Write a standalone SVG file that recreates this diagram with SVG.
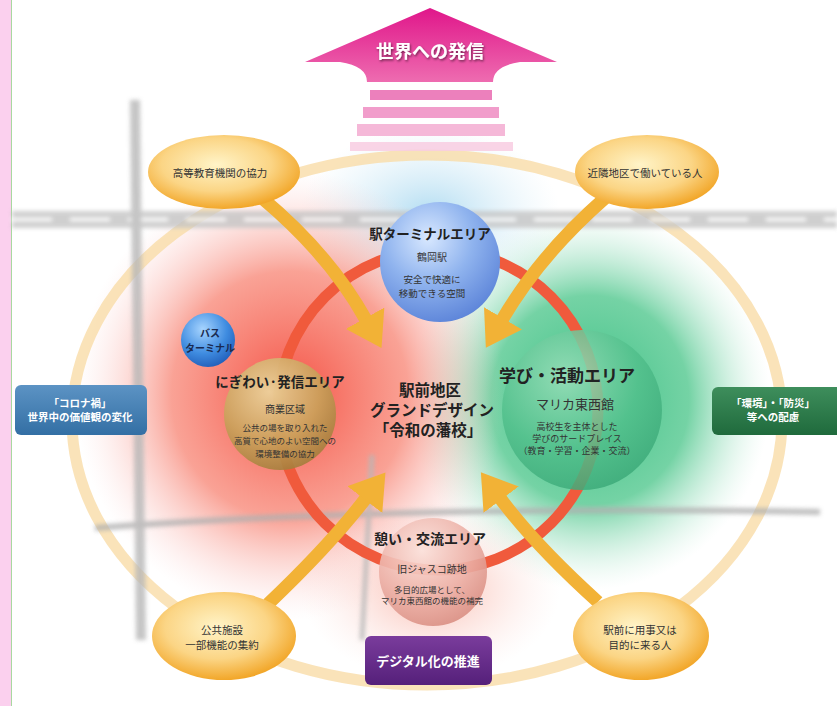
<svg xmlns="http://www.w3.org/2000/svg" width="837" height="706" viewBox="0 0 837 706">
<defs>
<style>
.t{font-family:"Noto Sans CJK JP","Noto Sans",sans-serif;text-anchor:middle}
.b{font-weight:700}
.dk{fill:#222}
.md{fill:#333}
.wh{fill:#fff;font-weight:700}
.arw{fill:none;stroke:#f2b236;stroke-width:13}
</style>
<radialGradient id="gRed" cx="0.5" cy="0.5" r="0.5">
<stop offset="0" stop-color="#f44a3c" stop-opacity="0.95"/>
<stop offset="0.55" stop-color="#f77a68" stop-opacity="0.7"/>
<stop offset="1" stop-color="#fbd0d0" stop-opacity="0"/>
</radialGradient>
<radialGradient id="gGreen" cx="0.5" cy="0.5" r="0.5">
<stop offset="0" stop-color="#3cc085" stop-opacity="1"/>
<stop offset="0.55" stop-color="#5ccb95" stop-opacity="0.85"/>
<stop offset="1" stop-color="#c8eedd" stop-opacity="0"/>
</radialGradient>
<radialGradient id="gBlueHaze" cx="0.5" cy="0.5" r="0.5">
<stop offset="0" stop-color="#a8d8f0" stop-opacity="0.9"/>
<stop offset="1" stop-color="#d8eef8" stop-opacity="0"/>
</radialGradient>
<radialGradient id="gPinkHaze" cx="0.5" cy="0.5" r="0.5">
<stop offset="0" stop-color="#f8a898" stop-opacity="0.8"/>
<stop offset="1" stop-color="#fce0dc" stop-opacity="0"/>
</radialGradient>
<radialGradient id="gEll" cx="0.45" cy="0.4" r="0.6">
<stop offset="0" stop-color="#fff4c8"/>
<stop offset="0.6" stop-color="#fbd585"/>
<stop offset="1" stop-color="#f2a72a"/>
</radialGradient>
<radialGradient id="sBlue" cx="0.4" cy="0.3" r="0.75">
<stop offset="0" stop-color="#d8e8ff"/>
<stop offset="0.5" stop-color="#8fb3ee"/>
<stop offset="1" stop-color="#5a82d8"/>
</radialGradient>
<radialGradient id="sBus" cx="0.4" cy="0.3" r="0.75">
<stop offset="0" stop-color="#a6d4ff"/>
<stop offset="0.6" stop-color="#3f8ce0"/>
<stop offset="1" stop-color="#1f5cb8"/>
</radialGradient>
<radialGradient id="sGold" cx="0.4" cy="0.3" r="0.75">
<stop offset="0" stop-color="#ecd8a0"/>
<stop offset="0.6" stop-color="#c9a25a"/>
<stop offset="1" stop-color="#a07a38"/>
</radialGradient>
<radialGradient id="sGreen" cx="0.4" cy="0.3" r="0.75">
<stop offset="0" stop-color="#9ee0bc"/>
<stop offset="0.6" stop-color="#52c08c"/>
<stop offset="1" stop-color="#3aa877"/>
</radialGradient>
<radialGradient id="sPink" cx="0.4" cy="0.3" r="0.75">
<stop offset="0" stop-color="#fbe2dc"/>
<stop offset="0.6" stop-color="#ecb0a6"/>
<stop offset="1" stop-color="#d88c80"/>
</radialGradient>
<linearGradient id="gArrow" x1="0" y1="0" x2="0" y2="1">
<stop offset="0" stop-color="#e0168a"/>
<stop offset="1" stop-color="#ee6cb0"/>
</linearGradient>
<linearGradient id="bBlue" x1="0" y1="0" x2="0" y2="1">
<stop offset="0" stop-color="#5c93c4"/>
<stop offset="1" stop-color="#336fa4"/>
</linearGradient>
<linearGradient id="bGreen" x1="0" y1="0" x2="0" y2="1">
<stop offset="0" stop-color="#3e8e5c"/>
<stop offset="1" stop-color="#1f6a3c"/>
</linearGradient>
<linearGradient id="bPurple" x1="0" y1="0" x2="0" y2="1">
<stop offset="0" stop-color="#7a3c9c"/>
<stop offset="1" stop-color="#55207a"/>
</linearGradient>
<filter id="sh" x="-20%" y="-20%" width="140%" height="140%">
<feDropShadow dx="1" dy="1.5" stdDeviation="1" flood-color="#000" flood-opacity="0.5"/>
</filter>
<filter id="blur8"><feGaussianBlur stdDeviation="2"/></filter>
<marker id="head" markerUnits="userSpaceOnUse" markerWidth="36" markerHeight="44" refX="2" refY="22" orient="auto">
<path d="M0,0 L34,22 L0,44 z" fill="#f2b236"/>
</marker>
</defs>

<!-- background -->
<rect width="837" height="706" fill="#fff"/>
<rect x="0" y="0" width="11" height="706" fill="#fbd0ee"/>
<line x1="11.5" y1="0" x2="11.5" y2="706" stroke="#a8d8a0" stroke-width="1"/>

<!-- color clouds -->
<ellipse cx="430" cy="215" rx="130" ry="90" fill="url(#gBlueHaze)"/>
<ellipse cx="590" cy="400" rx="180" ry="190" fill="url(#gGreen)"/>
<ellipse cx="290" cy="395" rx="215" ry="225" fill="url(#gRed)"/>
<ellipse cx="430" cy="590" rx="130" ry="90" fill="url(#gPinkHaze)"/>

<!-- big outer ring -->
<ellipse cx="427" cy="420" rx="355" ry="265" fill="none" stroke="#f9dca8" stroke-width="11" opacity="0.8"/>

<!-- roads -->
<g id="roads" filter="url(#blur8)" opacity="0.8">
<rect x="12" y="211" width="825" height="17" fill="#c4c4c4"/>
<line x1="12" y1="219.5" x2="837" y2="219.5" stroke="#fff" stroke-width="3" stroke-dasharray="40 18"/>
<path d="M130,100 L136,640 L146,640 L140,100 z" fill="#b8b8b8"/>
<path d="M95,528 Q 400,505 820,512" fill="none" stroke="#b0b0b0" stroke-width="6"/>
<path d="M372,455 L362,640" fill="none" stroke="#b8b8b8" stroke-width="5"/>
</g>

<!-- red ring -->
<circle cx="438" cy="410" r="160" fill="none" stroke="#f05a3c" stroke-width="11"/>

<!-- top arrow -->
<g id="world">
<path d="M430,8 L557,62 L520,62 Q493,66 493,82 L367,82 Q367,66 340,62 L305,62 z" fill="url(#gArrow)"/>
<rect x="370" y="90" width="122" height="10" fill="#ec80bc"/>
<rect x="363" y="107" width="136" height="11" fill="#f098c8" opacity="0.95"/>
<rect x="357" y="124" width="148" height="12" fill="#f4b0d4" opacity="0.9"/>
<rect x="350" y="142" width="163" height="9" fill="#f8cce2" opacity="0.85"/>
<text class="t wh" x="430" y="58" font-size="18" filter="url(#sh)">世界への発信</text>
</g>

<!-- connectors -->
<g id="connectors">
<path class="arw" d="M262,198 Q330,255 366,320" marker-end="url(#head)"/>
<path class="arw" d="M605,198 Q540,255 502,320" marker-end="url(#head)"/>
<path class="arw" d="M268,604 Q330,545 366,498" marker-end="url(#head)"/>
<path class="arw" d="M598,602 Q535,545 500,498" marker-end="url(#head)"/>
</g>

<!-- corner ellipses -->
<g id="n-tl"><ellipse cx="224" cy="172" rx="76" ry="37" fill="url(#gEll)"/>
<text class="t md" x="220" y="177" font-size="10.5">高等教育機関の協力</text></g>
<g id="n-tr"><ellipse cx="647" cy="172" rx="72" ry="37" fill="url(#gEll)"/>
<text class="t md" x="645" y="177" font-size="10.5">近隣地区で働いている人</text></g>
<g id="n-bl"><ellipse cx="224" cy="636" rx="72" ry="44" fill="url(#gEll)"/>
<text class="t md" x="222" y="634" font-size="10.5">公共施設</text>
<text class="t md" x="222" y="649" font-size="10.5">一部機能の集約</text></g>
<g id="n-br"><ellipse cx="641" cy="636" rx="68" ry="44" fill="url(#gEll)"/>
<text class="t md" x="640" y="634" font-size="10.5">駅前に用事又は</text>
<text class="t md" x="640" y="649" font-size="10.5">目的に来る人</text></g>

<!-- station sphere -->
<g id="station">
<circle cx="440" cy="262" r="60" fill="url(#sBlue)"/>
<text class="t b dk" x="430" y="239" font-size="13.5">駅ターミナルエリア</text>
<text class="t md" x="432" y="261" font-size="10">鶴岡駅</text>
<text class="t md" x="432" y="283" font-size="9.5">安全で快適に</text>
<text class="t md" x="432" y="297" font-size="9.5">移動できる空間</text>
</g>

<!-- bus terminal -->
<g id="bus">
<circle cx="208" cy="340" r="27" fill="url(#sBus)"/>
<text class="t b" x="210" y="337" font-size="10" fill="#1a2a50">バス</text>
<text class="t b" x="210" y="352" font-size="10" fill="#1a2a50">ターミナル</text>
</g>

<!-- nigiwai -->
<g id="nigiwai">
<circle cx="280" cy="414" r="56" fill="url(#sGold)" opacity="0.9"/>
<text class="t b dk" x="280" y="387" font-size="13.5">にぎわい·発信エリア</text>
<text class="t md" x="285" y="413" font-size="10">商業区域</text>
<text class="t md" x="285" y="431" font-size="8.5">公共の場を取り入れた</text>
<text class="t md" x="285" y="444" font-size="8.5">高質で心地のよい空間への</text>
<text class="t md" x="285" y="457" font-size="8.5">環境整備の協力</text>
</g>

<!-- manabi -->
<g id="manabi">
<circle cx="582" cy="410" r="80" fill="url(#sGreen)" opacity="0.85"/>
<text class="t b dk" x="567" y="382" font-size="17">学び・活動エリア</text>
<text class="t md" x="575" y="409" font-size="13">マリカ東西館</text>
<text class="t md" x="577" y="430" font-size="9">高校生を主体とした</text>
<text class="t md" x="577" y="442" font-size="9">学びのサードプレイス</text>
<text class="t md" x="577" y="454" font-size="9">（教育・学習・企業・交流）</text>
</g>

<!-- center -->
<g id="center">
<text class="t b dk" x="430" y="396" font-size="15.5">駅前地区</text>
<text class="t b dk" x="432" y="416" font-size="15.5">グランドデザイン</text>
<text class="t b dk" x="428" y="436" font-size="15.5">「令和の藩校」</text>
</g>

<!-- ikoi -->
<g id="ikoi">
<circle cx="433" cy="572" r="54" fill="url(#sPink)" opacity="0.9"/>
<text class="t b dk" x="430" y="544" font-size="14">憩い・交流エリア</text>
<text class="t md" x="432" y="573" font-size="10">旧ジャスコ跡地</text>
<text class="t md" x="432" y="593" font-size="8.5">多目的広場として、</text>
<text class="t md" x="432" y="604" font-size="8.5">マリカ東西館の機能の補完</text>
</g>

<!-- side boxes -->
<g id="corona">
<rect x="15" y="385" width="132" height="50" rx="6" fill="url(#bBlue)"/>
<text class="t wh" x="80" y="407" font-size="10.5">「コロナ禍」</text>
<text class="t wh" x="80" y="421" font-size="10.5">世界中の価値観の変化</text>
</g>
<g id="kankyo">
<rect x="712" y="387" width="130" height="48" rx="6" fill="url(#bGreen)"/>
<text class="t wh" x="773" y="407" font-size="10.5">「環境」・「防災」</text>
<text class="t wh" x="773" y="421" font-size="10.5">等への配慮</text>
</g>
<g id="digital">
<rect x="365" y="636" width="127" height="49" rx="6" fill="url(#bPurple)"/>
<text class="t wh" x="428" y="666" font-size="13">デジタル化の推進</text>
</g>
</svg>
